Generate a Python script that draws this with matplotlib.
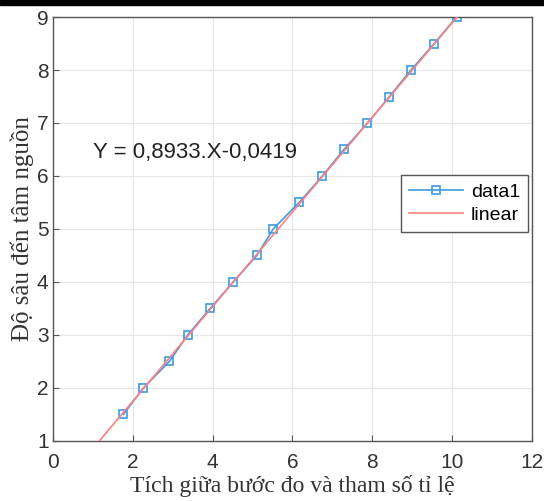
import matplotlib
matplotlib.use("Agg")
import matplotlib.pyplot as plt
from matplotlib.patches import Rectangle
import numpy as np

# du lieu doc tu hinh
x_data = [1.77, 2.27, 2.92, 3.38, 3.94, 4.52, 5.11, 5.52, 6.17, 6.75,
          7.29, 7.88, 8.43, 8.97, 9.55, 10.11]
y_data = [1.5, 2.0, 2.5, 3.0, 3.5, 4.0, 4.5, 5.0, 5.5, 6.0,
          6.5, 7.0, 7.5, 8.0, 8.5, 9.0]
slope = 0.8933
intercept = -0.0419
x_ticks = [0, 2, 4, 6, 8, 10, 12]
y_ticks = [1, 2, 3, 4, 5, 6, 7, 8, 9]

fig = plt.figure(figsize=(5.44, 5.01), dpi=100)
ax = fig.add_axes([0.097, 0.12, 0.881, 0.846])

# duong hoi quy
x_fit = np.array([1.0, 10.3])
ax.plot(x_fit, slope * x_fit + intercept, color='#ff8080', lw=1.2, label='linear', zorder=3)
ax.plot(x_data, y_data, color='#3d9be0', lw=1.2, marker='s', ms=6, mfc='none',
        mec='#3d9be0', mew=1.2, label='data1', zorder=2)

ax.set_xlim(0, 12)
ax.set_ylim(1, 9)
ax.set_xticks(x_ticks)
ax.set_yticks(y_ticks)
ax.grid(True, color='#e6e6e6', lw=0.8)
ax.set_axisbelow(True)
ax.tick_params(direction='in', length=4, color='#555555', labelsize=15,
               labelcolor='#333333', top=False, right=False, pad=3)
ax.tick_params(axis='x', pad=9)
for lab in ax.get_xticklabels() + ax.get_yticklabels():
    lab.set_fontfamily('Liberation Sans')
for s in ax.spines.values():
    s.set_color('#555555')
    s.set_linewidth(1.0)

ax.set_xlabel('Tích giữa bước đo và tham số tỉ lệ', family='Liberation Serif',
              fontsize=17, color='#333333', labelpad=2)
ax.set_ylabel('Độ sâu đến tâm nguồn', family='Liberation Serif',
              fontsize=18, color='#333333', labelpad=2)

ax.text(1.0, 6.45, 'Y = 0,8933.X-0,0419', family='Liberation Sans', fontsize=16,
        color='#222222', va='center', ha='left')

handles, labels = ax.get_legend_handles_labels()
leg = ax.legend(handles[::-1], labels[::-1], loc='center right',
                bbox_to_anchor=(1.0, 0.56), prop={'family': 'Liberation Sans', 'size': 14},
                fancybox=False, edgecolor='#555555', framealpha=1,
                handlelength=2.8, borderpad=0.4, labelspacing=0.3, handletextpad=0.4,
                borderaxespad=0.2)

# vien den o tren cung
fig.patches.append(Rectangle((0, 0.99), 1, 0.01, transform=fig.transFigure,
                             color='black', zorder=10))

fig.savefig('out.png', dpi=100)
